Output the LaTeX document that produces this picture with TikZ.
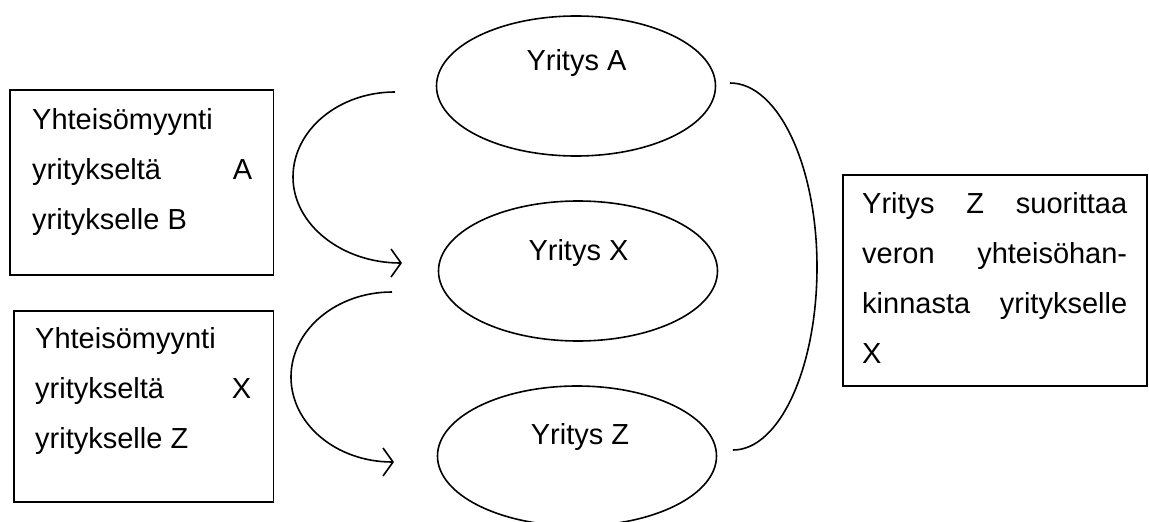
\documentclass[tikz,border=0pt]{standalone}
\usepackage{fontspec}
\setmainfont{Liberation Sans}
\usetikzlibrary{shapes.geometric,arrows.meta}
\begin{document}
\begin{tikzpicture}[x=1pt,y=-1pt,
  every node/.style={font=\fontsize{29}{50}\selectfont},
  firm/.style={ellipse, draw, line width=1.6pt, minimum width=279pt, minimum height=140pt, inner sep=0pt},
  frame/.style={draw, line width=1.6pt, anchor=north west, inner sep=0pt},
  firmtext/.style={anchor=base, inner sep=0pt},
  boxtext/.style={anchor=base west, inner sep=0pt},
  flow/.style={line width=1.6pt, -{Straight Barb[length=10pt,width=28pt]}},
  rightlink/.style={line width=1.6pt}]
\clip (0,0) rectangle (1149,522);
% companies
\node[firm] (A) at (576,86) {};
\node[firm] (X) at (578,271) {};
\node[firm] (Z) at (577,456) {};
\node[firmtext] (tA) at (576.5,70) {Yritys A};
\node[firmtext] (tX) at (578.5,260) {Yritys X};
\node[firmtext] (tZ) at (580,444) {Yritys Z};
% left boxes
\node[frame, minimum width=263.4pt, minimum height=184.7pt] (b1) at (9.3,89.3) {};
\node[boxtext] (t1) at (32,129) {\parbox[t]{220pt}{Yhteisömyynti\\ yritykseltä\hfill A\\ yritykselle B}};
\node[frame, minimum width=259.4pt, minimum height=191pt] (b2) at (13.3,310) {};
\node[boxtext] (t2) at (35,348) {\parbox[t]{216pt}{Yhteisömyynti\\ yritykseltä\hfill X\\ yritykselle Z}};
% right box
\node[frame, minimum width=304pt, minimum height=211pt] (b3) at (842,174) {};
\node[boxtext] (t3) at (862,213) {\parbox[t]{265pt}{Yritys\hfill Z\hfill suorittaa\\ veron\hfill yhteisöhan-\\ kinnasta\hfill yritykselle\\ X}};
% connectors
\coordinate (c1s) at (395,92);
\coordinate (c1m) at (293,177);
\coordinate (c1e) at (402,263);
\draw[flow] (c1s) .. controls (338.7,92) and (293,130) .. (c1m) .. controls (293,224.5) and (341.8,263) .. (c1e);
\coordinate (c2s) at (392,292);
\coordinate (c2m) at (291,377);
\coordinate (c2e) at (394,462);
\draw[flow] (c2s) .. controls (336.2,292) and (291,330) .. (c2m) .. controls (291,424) and (336.2,462) .. (c2e);
\coordinate (c3s) at (730,83);
\coordinate (c3m) at (817,267);
\coordinate (c3e) at (733,450);
\draw[rightlink] (c3s) .. controls (778,83) and (817,165.4) .. (c3m) .. controls (817,368) and (779.4,450) .. (c3e);
\end{tikzpicture}
\end{document}
